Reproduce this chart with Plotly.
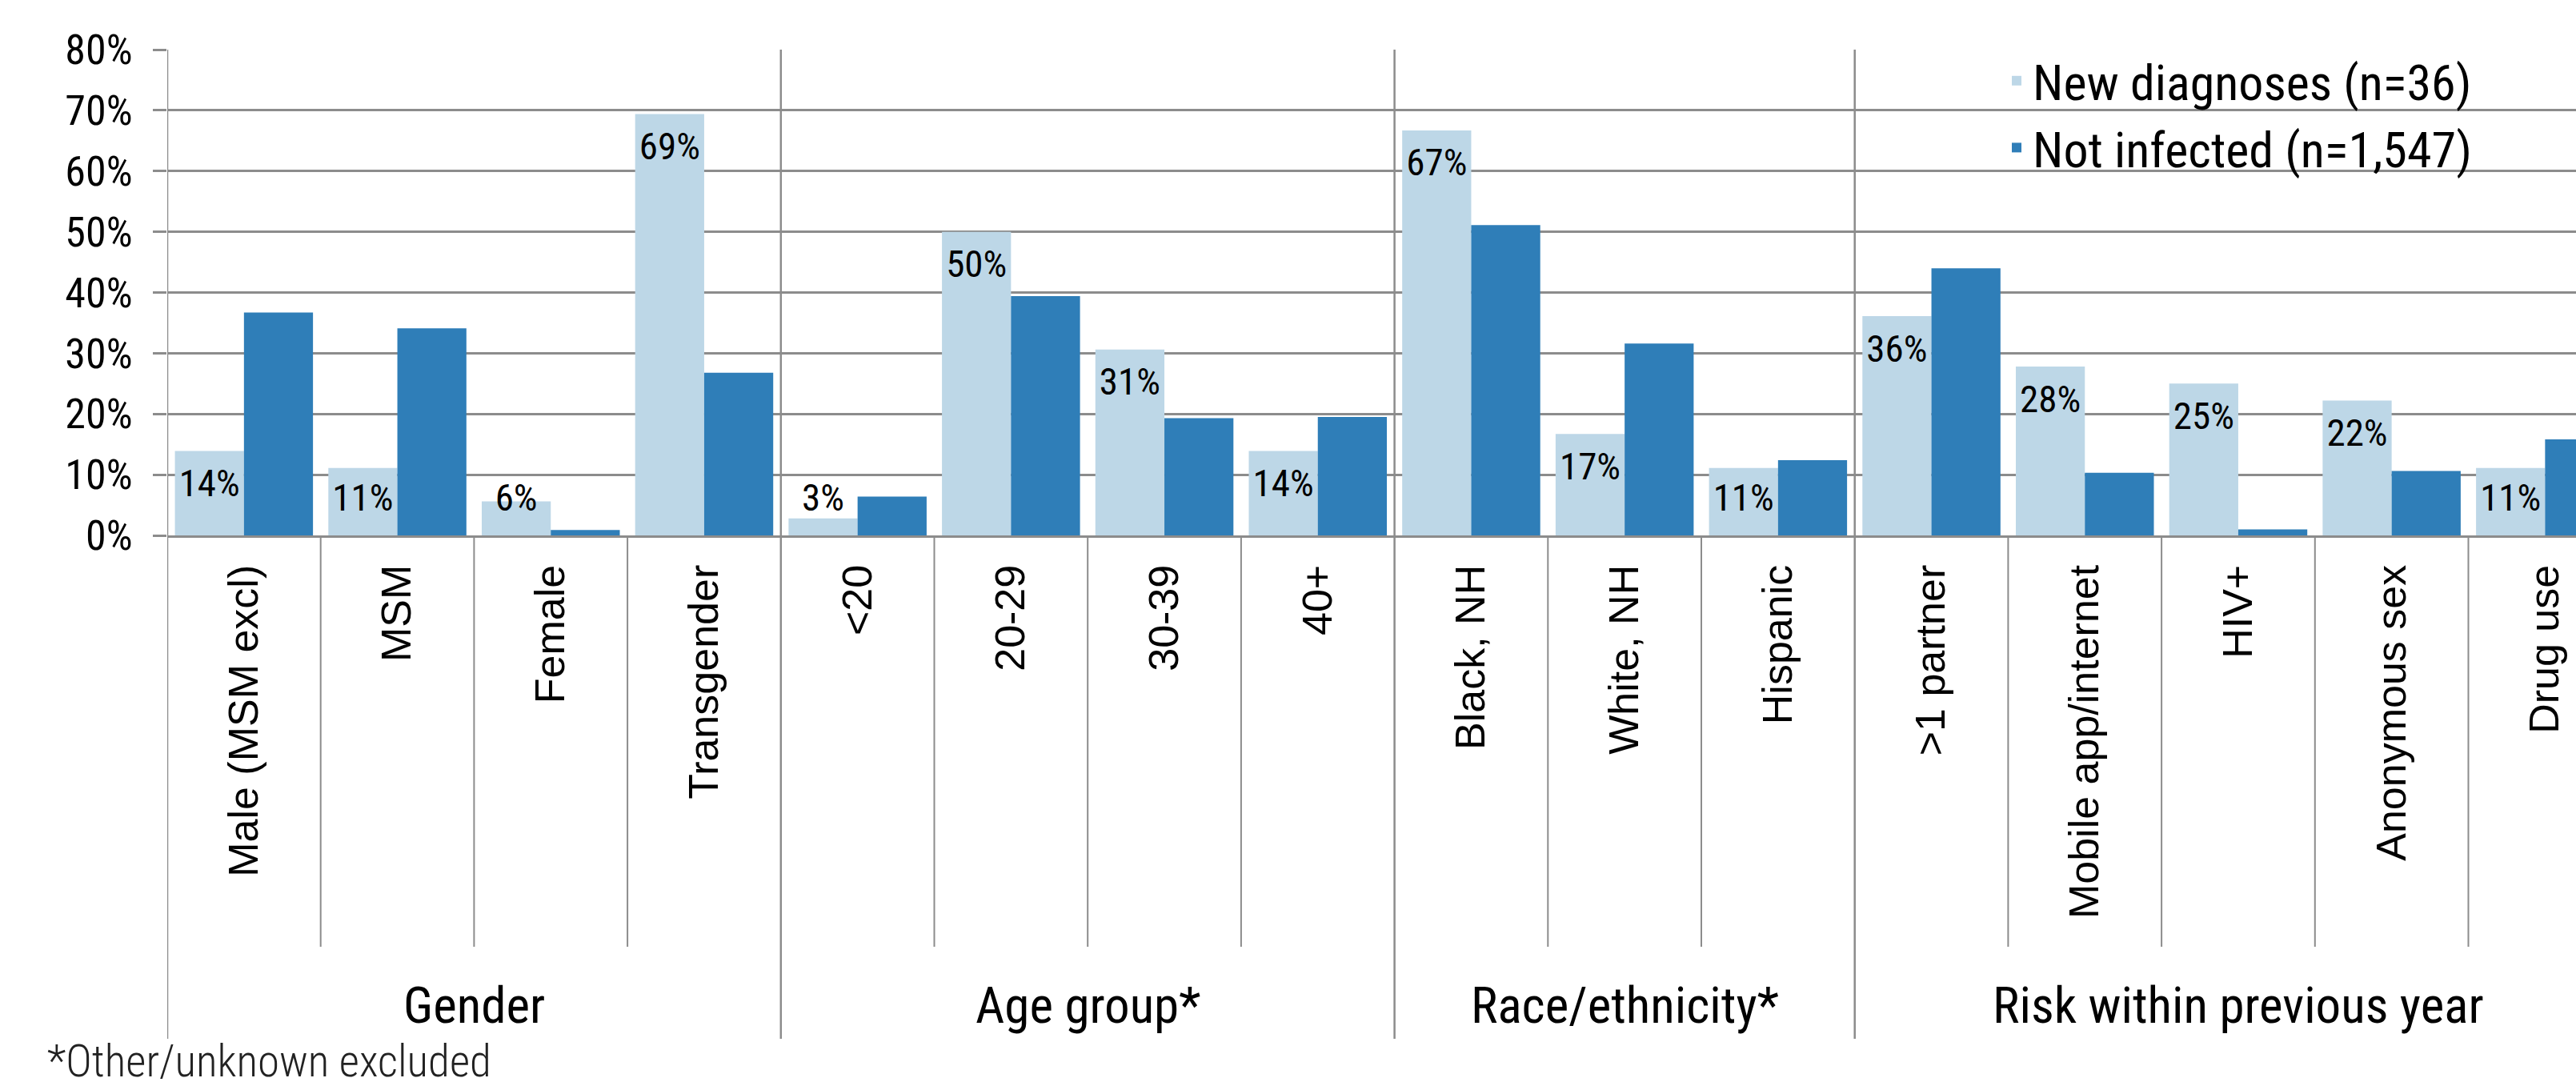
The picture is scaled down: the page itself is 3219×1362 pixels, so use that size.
import plotly.graph_objects as go

# ---------------- data ----------------
categories = ["Male (MSM excl)", "MSM", "Female", "Transgender",
              "<20", "20-29", "30-39", "40+",
              "Black, NH", "White, NH", "Hispanic",
              ">1 partner", "Mobile app/internet", "HIV+", "Anonymous sex", "Drug use"]
groups = ["Gender", "Age group*", "Race/ethnicity*", "Risk within previous year"]
group_sizes = [4, 4, 3, 5]
new_diagnoses = [13.9, 11.1, 5.6, 69.4, 2.8, 50.0, 30.6, 13.9,
                 66.7, 16.7, 11.1, 36.1, 27.8, 25.0, 22.2, 11.1]
not_infected = [36.7, 34.1, 0.9, 26.8, 6.4, 39.4, 19.3, 19.5,
                51.1, 31.6, 12.4, 44.0, 10.3, 1.0, 10.6, 15.8]
series_names = ["New diagnoses (n=36)", "Not infected (n=1,547)"]
y_ticks = [0, 10, 20, 30, 40, 50, 60, 70, 80]
y_tick_labels = ["0%", "10%", "20%", "30%", "40%", "50%", "60%", "70%", "80%"]
footnote = "*Other/unknown excluded"

# ---------------- style ----------------
W, H = 3219, 1362
ML, MT, MB = 209, 62, 693
PLOT_H = H - MT - MB
NARROW = "Roboto Condensed, Liberation Sans Narrow, sans-serif"
REGULAR = "Liberation Sans, Arial, sans-serif"
LIGHT = "#BDD7E7"
DARK = "#2F7EB8"
GRID = "#8C8C8C"
BARGAP = 0.1
CAT_W_PX = 191.7


def px_to_paper_y(py):
    return (H - MB - py) / PLOT_H


def px_to_paper_x(px):
    return (px - ML) / (W - ML)


def esc(s):
    return s.replace("&", "&amp;").replace("<", "&lt;").replace(">", "&gt;")


x_idx = list(range(len(categories)))

fig = go.Figure()
fig.add_trace(go.Bar(x=x_idx, y=new_diagnoses, name=series_names[0],
                     marker=dict(color=LIGHT, line=dict(width=0)), hoverinfo="skip"))
fig.add_trace(go.Bar(x=x_idx, y=not_infected, name=series_names[1],
                     marker=dict(color=DARK, line=dict(width=0)), hoverinfo="skip"))

# data labels on the "new diagnoses" bars (inside end, kept above the base)
bar_w = (1 - BARGAP) / 2
label_x = [i - bar_w / 2 for i in x_idx]
label_y = [max(v - 5.9, 5.7) for v in new_diagnoses]
fig.add_trace(go.Scatter(x=label_x, y=label_y, mode="text",
                         text=[f"{round(v)}%" for v in new_diagnoses],
                         textfont=dict(family=NARROW, size=47, color="black"),
                         showlegend=False, hoverinfo="skip", cliponaxis=False))

# category / group separators
shapes = []
cat_sep_bottom = px_to_paper_y(1183)
grp_sep_bottom = px_to_paper_y(1298)
group_starts = []
start = 0
for s in group_sizes:
    group_starts.append(start)
    start += s
group_bounds = [g - 0.5 for g in group_starts] + [start - 0.5]
for b in range(len(categories) - 1):
    xb = b + 0.5
    if xb in group_bounds:
        continue
    shapes.append(dict(type="line", xref="x", yref="paper", x0=xb, x1=xb,
                       y0=0, y1=cat_sep_bottom, line=dict(color=GRID, width=2)))
for xb in group_bounds:
    shapes.append(dict(type="line", xref="x", yref="paper", x0=xb, x1=xb,
                       y0=1, y1=grp_sep_bottom, line=dict(color=GRID, width=2.5)))

annotations = []
for g, st, sz in zip(groups, group_starts, group_sizes):
    annotations.append(dict(x=st + (sz - 1) / 2, y=px_to_paper_y(1256), xref="x", yref="paper",
                            text=esc(g), showarrow=False, xanchor="center", yanchor="middle",
                            font=dict(family=NARROW, size=63, color="black")))
annotations.append(dict(x=px_to_paper_x(57), y=px_to_paper_y(1326), xref="paper", yref="paper",
                        text=footnote, showarrow=False, xanchor="left", yanchor="middle",
                        font=dict(family=NARROW, size=55, color="#222222", weight=300)))

visible_cats = (W - ML) / CAT_W_PX
fig.update_layout(
    width=W, height=H,
    margin=dict(l=ML, r=0, t=MT, b=MB, autoexpand=False),
    paper_bgcolor="white", plot_bgcolor="white",
    barmode="group", bargap=BARGAP, bargroupgap=0,
    showlegend=True,
    legend=dict(x=px_to_paper_x(2500), y=px_to_paper_y(54), xanchor="left", yanchor="top",
                font=dict(family=NARROW, size=62, color="black"),
                bgcolor="rgba(0,0,0,0)", traceorder="normal"),
    xaxis=dict(range=[-0.5, -0.5 + visible_cats], tickmode="array", tickvals=x_idx,
               ticktext=[esc(c) for c in categories], tickangle=-90, ticks="",
               ticklabelstandoff=13,
               tickfont=dict(family=REGULAR, size=52, color="black"),
               showgrid=False, showline=True, linecolor=GRID, linewidth=3, zeroline=False,
               fixedrange=True),
    yaxis=dict(range=[0, 80], tickmode="array", tickvals=y_ticks, ticktext=y_tick_labels,
               ticks="outside", ticklen=17, tickwidth=3, tickcolor=GRID,
               ticklabelstandoff=15,
               showgrid=True, gridcolor=GRID, gridwidth=3, zeroline=False, showline=False,
               tickfont=dict(family=NARROW, size=52, color="black"), fixedrange=True),
    shapes=shapes, annotations=annotations,
)

fig.write_html("out.html")
